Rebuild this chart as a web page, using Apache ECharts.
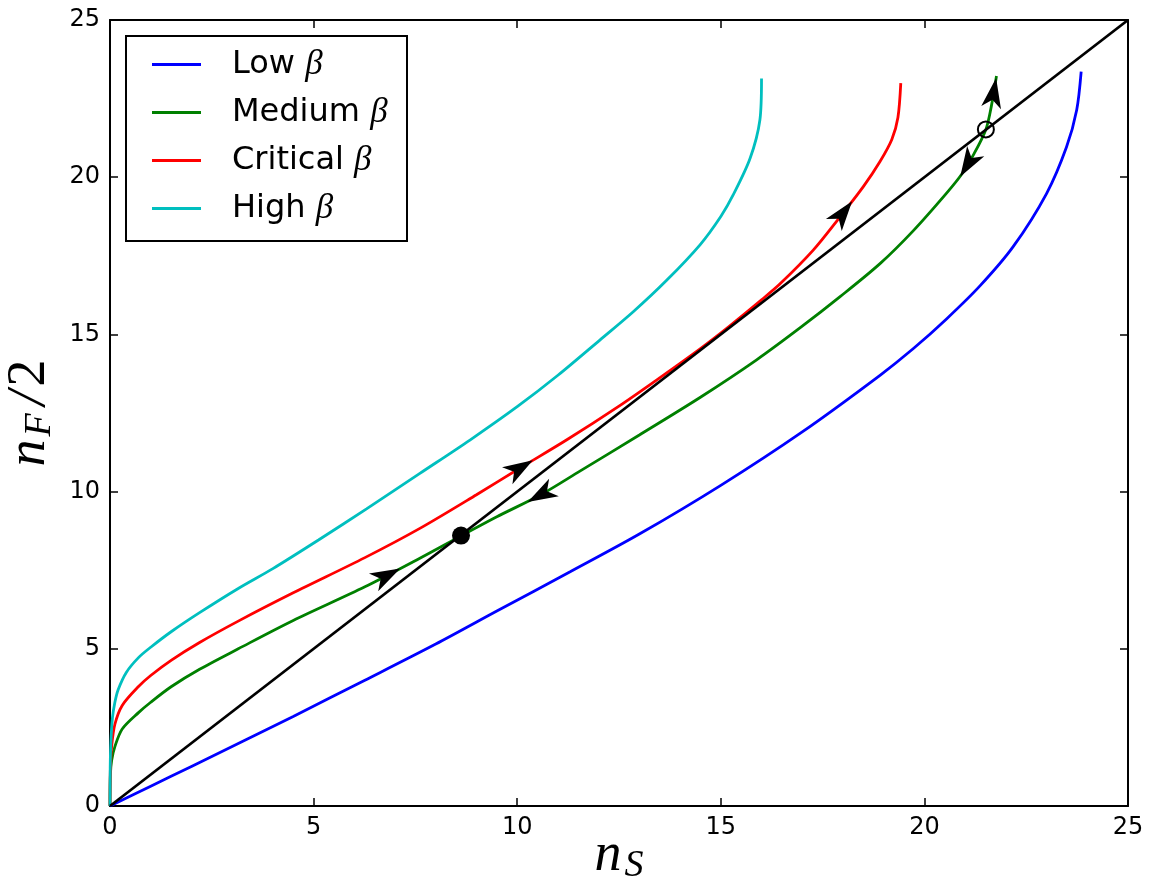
<!DOCTYPE html>
<html>
<head>
<meta charset="utf-8">
<script src="https://cdn.jsdelivr.net/npm/echarts@6/dist/echarts.min.js"></script>
<style>
html,body{margin:0;padding:0;background:#fff;}
#c{width:1149px;height:885px;}
</style>
</head>
<body>
<div id="c"></div>
<script>
// ---- data ----
const lowBeta = [[0,0],[1,0.63],[2,1.26],[3.15,1.99],[4.5,2.85],[6.26,4.0],[8,5.15],[9.5,6.2],[11.3,7.45],[13,8.65],[15,10.2],[17,11.9],[18.91,13.7],[19.73,14.55],[20.55,15.5],[21.37,16.55],[22.18,17.79],[23.0,19.48],[23.49,20.96],[23.74,22.14],[23.85,23.36]];
const mediumBeta = [[0,0],[0.01,1.0],[0.04,1.45],[0.12,1.89],[0.3,2.45],[0.7,2.97],[1.0,3.3],[1.51,3.8],[2.2,4.35],[3.15,5.0],[4.5,5.9],[6.26,6.97],[7.61,7.88],[8.62,8.59],[9.5,9.2],[10.58,9.9],[11.54,10.65],[13,11.8],[14.5,13.0],[15.88,14.19],[17,15.26],[17.93,16.2],[18.91,17.25],[19.73,18.3],[20.55,19.5],[20.92,20.1],[21.2,20.7],[21.51,21.52],[21.65,22.3],[21.77,23.22]];
const criticalBeta = [[0,0],[0.01,1.2],[0.04,1.9],[0.12,2.6],[0.3,3.2],[0.7,3.8],[1.0,4.15],[1.51,4.64],[2.2,5.2],[3.15,5.88],[4.5,6.78],[6.26,7.9],[7.61,8.83],[9,9.9],[10.07,10.75],[11.21,11.64],[12.5,12.72],[13.5,13.62],[14.5,14.55],[15.2,15.25],[16.0,16.1],[16.45,16.6],[17.27,17.68],[17.93,18.74],[18.5,19.7],[18.91,20.5],[19.2,21.2],[19.35,21.9],[19.42,22.99]];
const highBeta = [[0,0],[0.005,1.2],[0.02,2.0],[0.06,2.8],[0.12,3.3],[0.2,3.7],[0.4,4.25],[0.7,4.72],[1.0,5.05],[1.51,5.55],[2.2,6.15],[3.15,6.92],[4.0,7.55],[5.12,8.46],[6.3,9.45],[7.61,10.58],[8.84,11.64],[10,12.7],[11,13.7],[12.03,14.82],[12.85,15.72],[13.67,16.72],[14.49,17.85],[15.0,18.75],[15.31,19.45],[15.72,20.6],[15.96,21.82],[16.0,23.14]];
const diagonal = [[0,0],[25,25]];
const stablePoint = [8.62, 8.6];
const unstablePoint = [21.51, 21.52];
// arrows: [curve, n_S position, direction along curve (+1 forward, -1 backward)]
const arrowMarks = [['Medium',6.8,1],['Critical',10.07,1],['Medium',10.58,-1],['Critical',18.0,1],['Medium',21.7,1],['Medium',21.07,-1]];
const seriesNames = ['Low β','Medium β','Critical β','High β'];

const curves = {Low: lowBeta, Medium: mediumBeta, Critical: criticalBeta, High: highBeta};
const colors = ['#0000ff','#008000','#ff0000','#00bfbf'];

function interp(curve, x){
  for (let i=0;i<curve.length-1;i++){
    const a=curve[i], b=curve[i+1];
    if (x>=a[0] && x<=b[0]){
      const t=(x-a[0])/(b[0]-a[0]||1);
      return a[1]+t*(b[1]-a[1]);
    }
  }
  return curve[curve.length-1][1];
}

const chart = echarts.init(document.getElementById('c'), null, {renderer:'canvas'});
const axisCommon = {
  min:0, max:25, interval:5,
  axisLine:{show:true, onZero:false, lineStyle:{color:'#000', width:2}},
  axisTick:{show:true, inside:true, length:8, lineStyle:{color:'#000', width:1.5}},
  splitLine:{show:false}
};
const mathRich = {
  n:{fontFamily:'Liberation Serif', fontStyle:'italic', fontSize:54, color:'#000'},
  s:{fontFamily:'Liberation Serif', fontStyle:'italic', fontSize:38, color:'#000', padding:[20,0,0,3]},
  sl:{fontFamily:'Liberation Serif', fontStyle:'italic', fontSize:54, color:'#000', padding:[0,4,0,8]},
  t:{fontFamily:'Liberation Serif', fontSize:54, color:'#000'}
};
const lineSeries = [lowBeta, mediumBeta, criticalBeta, highBeta].map((d,i)=>({
  type:'line', name:seriesNames[i], data:d, showSymbol:false, symbol:'none',
  smooth:0.3, lineStyle:{width:2.8, color:colors[i]}, itemStyle:{color:colors[i]},
  xAxisIndex:0, yAxisIndex:0, z:3, animation:false
}));

const option = {
  animation:false,
  backgroundColor:'#fff',
  grid:{left:110, right:21, top:20, bottom:79, containLabel:false, outerBoundsMode:'none'},
  xAxis:[
    Object.assign({}, axisCommon, {type:'value', position:'bottom',
      axisLabel:{show:true, color:'#000', fontFamily:'DejaVu Sans', fontSize:24, margin:10},
      name:'{n|n}{s|S}', nameLocation:'middle', nameGap:21, nameMoveOverlap:false, nameTextStyle:{rich:mathRich}}),
    Object.assign({}, axisCommon, {type:'value', position:'top', axisLabel:{show:false}})
  ],
  yAxis:[
    Object.assign({}, axisCommon, {type:'value', position:'left',
      axisLabel:{show:true, color:'#000', fontFamily:'DejaVu Sans', fontSize:24, margin:10},
      name:'{n|n}{s|F}{sl|/}{t|2}', nameLocation:'middle', nameGap:48, nameRotate:90, nameTextStyle:{rich:mathRich}}),
    Object.assign({}, axisCommon, {type:'value', position:'right', axisLabel:{show:false}})
  ],
  legend:{
    show:true, orient:'vertical', left:147, top:42, itemGap:13,
    icon:'rect', itemWidth:49, itemHeight:3,
    data:seriesNames,
    formatter:function(name){ return '{a|'+name.replace(' β','')+' }{b|β}'; },
    textStyle:{rich:{
      a:{fontFamily:'DejaVu Sans', fontSize:32, color:'#000', lineHeight:36, padding:[0,0,0,26]},
      b:{fontFamily:'Liberation Serif', fontStyle:'italic', fontSize:35, color:'#000', lineHeight:36}
    }},
    z:10
  },
  graphic:[{type:'rect', left:125, top:35, shape:{width:281, height:205}, style:{fill:'#fff', stroke:'#000', lineWidth:2}, z:5}],
  series: lineSeries.concat([
    {type:'line', name:'diag', data:diagonal, showSymbol:false, symbol:'none', lineStyle:{width:2.8, color:'#000'}, z:4, animation:false},
    {type:'scatter', name:'stable', data:[stablePoint], symbol:'circle', symbolSize:18, itemStyle:{color:'#000', opacity:1}, z:6, animation:false},
    {type:'scatter', name:'unstable', data:[unstablePoint], symbol:'circle', symbolSize:16, itemStyle:{color:'rgba(0,0,0,0)', borderColor:'#000', borderWidth:2, opacity:1}, z:6, animation:false},
    {type:'scatter', name:'arrows', data:[], symbol:'path://M10,0 L20,30 L10,22 L0,30 Z', symbolSize:[20,30], itemStyle:{color:'#000', opacity:1}, z:7, animation:false}
  ])
};
chart.setOption(option);

// orient each arrow along its curve through the chart's own scales
const arrowData = arrowMarks.map(function(m){
  const curve = curves[m[0]];
  const x = m[1], y = interp(curve, x);
  const h = 0.04;
  const p1 = chart.convertToPixel({gridIndex:0}, [x-h, interp(curve, x-h)]);
  const p2 = chart.convertToPixel({gridIndex:0}, [x+h, interp(curve, x+h)]);
  let ang = Math.atan2(-(p2[1]-p1[1]), p2[0]-p1[0]) * 180/Math.PI;
  if (m[2] < 0) ang += 180;
  return {value:[x, y], symbolRotate: ang - 90};
});
chart.setOption({series:[{name:'arrows', data:arrowData}]});
</script>
</body>
</html>
